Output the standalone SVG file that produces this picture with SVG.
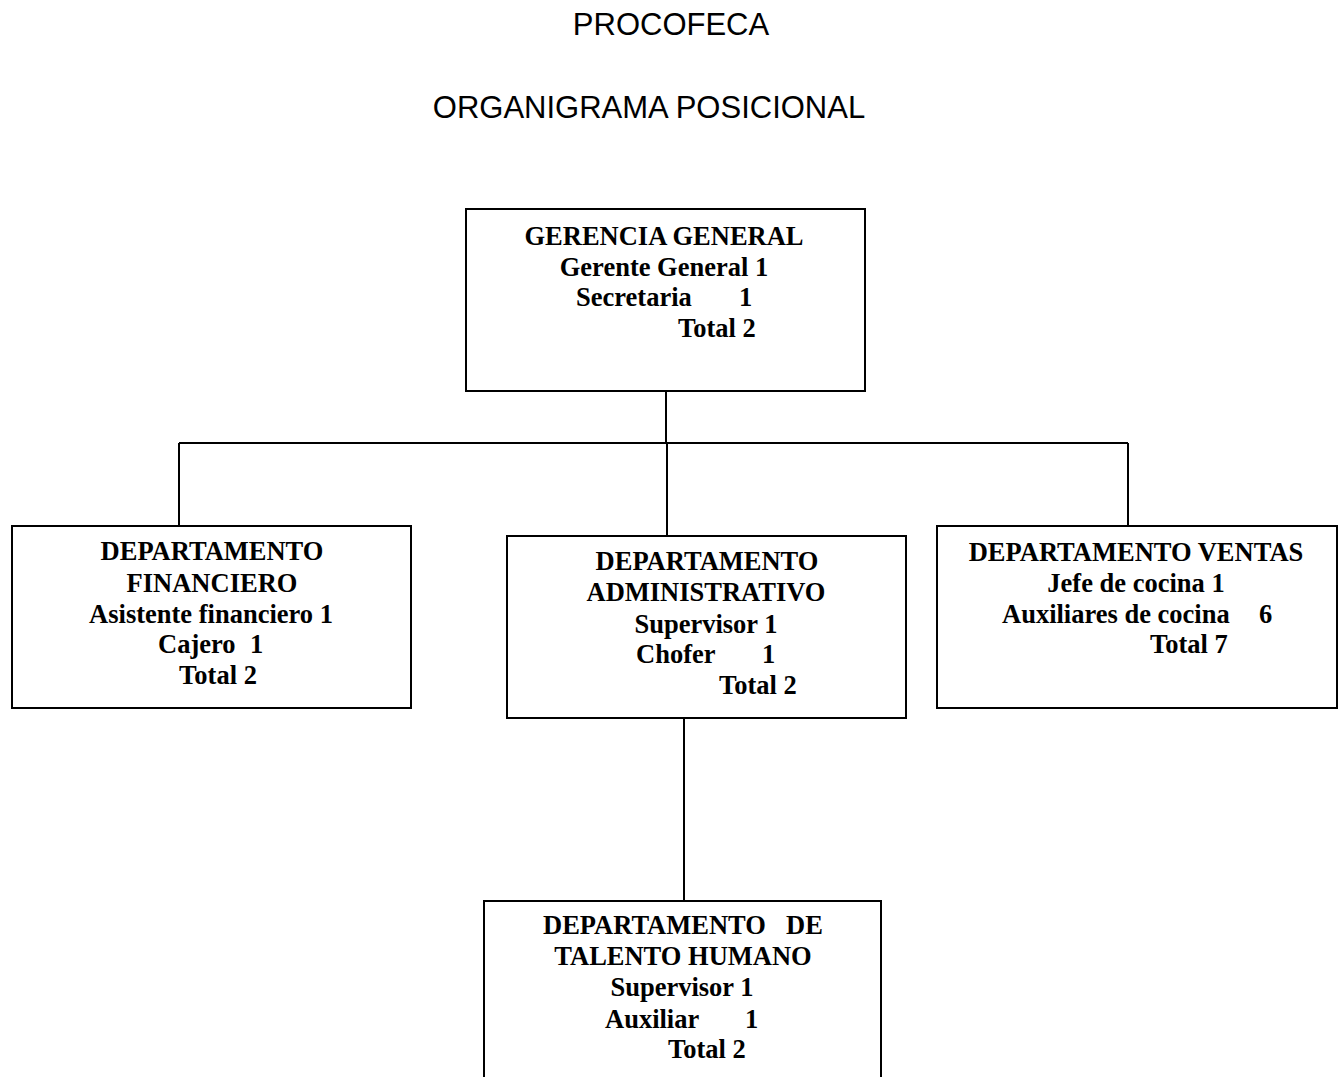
<svg xmlns="http://www.w3.org/2000/svg" width="1338" height="1077" viewBox="0 0 1338 1077">
<style>
.box{fill:#fff;stroke:#000;stroke-width:2}
.ln{fill:none;stroke:#000;stroke-width:2}
.t{font-family:"Liberation Serif","Times New Roman",serif;font-weight:bold;font-size:26.5px;fill:#000}
.c{text-anchor:middle}
.h{font-family:"Liberation Sans",Arial,sans-serif;font-size:31px;fill:#000;text-anchor:middle}
</style>
<rect width="1338" height="1077" fill="#fff"/>
<text class="h" x="671" y="35">PROCOFECA</text>
<text class="h" x="649" y="118">ORGANIGRAMA POSICIONAL</text>
<g id="connectors">
<path class="ln" d="M666 391V443M179 443H1128M179 443V526M1128 443V526M667 443V536M684 718V901"/>
</g>
<g id="gerencia">
<rect class="box" x="466" y="209" width="399" height="182"/>
<text class="t c" x="664" y="245">GERENCIA GENERAL</text>
<text class="t c" x="664" y="276">Gerente General 1</text>
<text class="t" y="306"><tspan x="576">Secretaria</tspan><tspan x="739">1</tspan></text>
<text class="t" x="678" y="337">Total 2</text>
</g>
<g id="financiero">
<rect class="box" x="12" y="526" width="399" height="182"/>
<text class="t c" x="212" y="560">DEPARTAMENTO</text>
<text class="t c" x="212" y="592">FINANCIERO</text>
<text class="t c" x="211" y="623">Asistente financiero 1</text>
<text class="t" y="653"><tspan x="158">Cajero</tspan><tspan x="250">1</tspan></text>
<text class="t c" x="218" y="684">Total 2</text>
</g>
<g id="administrativo">
<rect class="box" x="507" y="536" width="399" height="182"/>
<text class="t c" x="707" y="570">DEPARTAMENTO</text>
<text class="t c" x="706" y="601">ADMINISTRATIVO</text>
<text class="t c" x="706" y="633">Supervisor 1</text>
<text class="t" y="663"><tspan x="636">Chofer</tspan><tspan x="762">1</tspan></text>
<text class="t" x="719" y="694">Total 2</text>
</g>
<g id="ventas">
<rect class="box" x="937" y="526" width="400" height="182"/>
<text class="t c" x="1136" y="561">DEPARTAMENTO VENTAS</text>
<text class="t c" x="1136" y="592">Jefe de cocina 1</text>
<text class="t" y="623"><tspan x="1002">Auxiliares de cocina</tspan><tspan x="1259">6</tspan></text>
<text class="t" x="1150" y="653">Total 7</text>
</g>
<g id="talento">
<rect class="box" x="484" y="901" width="397" height="200"/>
<text class="t" y="934"><tspan x="543">DEPARTAMENTO</tspan><tspan x="786">DE</tspan></text>
<text class="t c" x="683" y="965">TALENTO HUMANO</text>
<text class="t c" x="682" y="996">Supervisor 1</text>
<text class="t" y="1028"><tspan x="605">Auxiliar</tspan><tspan x="745">1</tspan></text>
<text class="t" x="668" y="1058">Total 2</text>
</g>
</svg>
